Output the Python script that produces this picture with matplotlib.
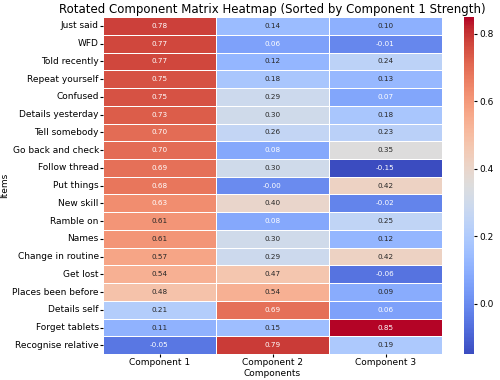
import matplotlib
matplotlib.use("Agg")
import matplotlib.pyplot as plt
import numpy as np
import pandas as pd
import seaborn as sns

items = [
    "Just said", "WFD", "Told recently", "Repeat yourself", "Confused",
    "Details yesterday", "Tell somebody", "Go back and check", "Follow thread",
    "Put things", "New skill", "Ramble on", "Names", "Change in routine",
    "Get lost", "Places been before", "Details self", "Forget tablets",
    "Recognise relative",
]
components = ["Component 1", "Component 2", "Component 3"]

comp1 = [0.78, 0.77, 0.77, 0.75, 0.75, 0.73, 0.70, 0.70, 0.69, 0.68,
         0.63, 0.61, 0.61, 0.57, 0.54, 0.48, 0.21, 0.11, -0.05]
comp2 = [0.14, 0.06, 0.12, 0.18, 0.29, 0.30, 0.26, 0.08, 0.30, -0.00,
         0.40, 0.08, 0.30, 0.29, 0.47, 0.54, 0.69, 0.15, 0.79]
comp3 = [0.10, -0.01, 0.24, 0.13, 0.07, 0.18, 0.23, 0.35, -0.15, 0.42,
         -0.02, 0.25, 0.12, 0.42, -0.06, 0.09, 0.06, 0.85, 0.19]

df = pd.DataFrame(dict(zip(components, [comp1, comp2, comp3])), index=items)

fig = plt.figure(figsize=(5, 3.8), dpi=100)
ax = fig.add_axes([0.206, 0.068, 0.678, 0.887])
cax = fig.add_axes([0.928, 0.068, 0.02, 0.887])

sns.heatmap(df, ax=ax, cbar_ax=cax, cmap="coolwarm", annot=True, fmt=".2f",
            linewidths=0.5, linecolor="white", annot_kws={"size": 5.2})

ax.set_title("Rotated Component Matrix Heatmap (Sorted by Component 1 Strength)",
             fontsize=8.5, pad=3)
ax.set_xlabel("Components", fontsize=6.5, labelpad=1)
ax.set_ylabel("Items", fontsize=6.5, labelpad=2)
ax.tick_params(axis="both", labelsize=6.5, length=2, pad=1)
ax.set_yticklabels(items, rotation=0)
cax.tick_params(labelsize=6.5, length=2, pad=2)
cax.set_yticks([0.0, 0.2, 0.4, 0.6, 0.8])

fig.savefig("out.png", dpi=100)
